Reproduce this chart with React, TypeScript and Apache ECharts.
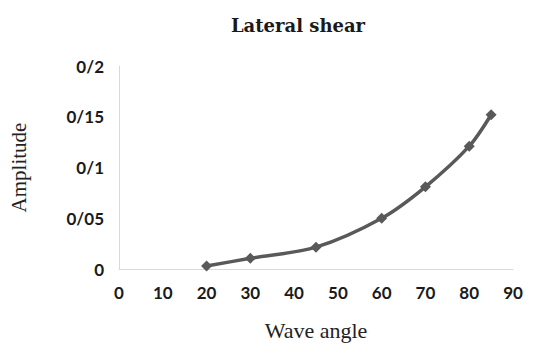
import React, { useEffect, useRef } from "react";
import * as echarts from "echarts";

// Wave angle (degrees) and lateral-shear amplitude
const waveAngles = [20, 30, 45, 60, 70, 80, 85];
const amplitudes = [0.003, 0.0105, 0.0215, 0.05, 0.081, 0.121, 0.152];

// Amplitude tick labels use "/" as the decimal separator
const yTickLabels: Record<string, string> = {
  "0": "0",
  "0.05": "0/05",
  "0.1": "0/1",
  "0.15": "0/15",
  "0.2": "0/2",
};

const SERIF = "'Liberation Serif', 'DejaVu Serif', serif";
const TICK_FONT = "Lato, 'Noto Sans', sans-serif";

export default function App() {
  const ref = useRef<HTMLDivElement>(null);

  useEffect(() => {
    if (!ref.current) return;
    const chart = echarts.init(ref.current, undefined, { renderer: "svg" });
    chart.setOption({
      animation: false,
      backgroundColor: "#ffffff",
      title: {
        text: "Lateral shear",
        left: 293,
        top: 11,
        textAlign: "center",
        textStyle: {
          fontFamily: "'DejaVu Serif', serif",
          fontSize: 18,
          fontWeight: "bold",
          color: "#1a1a1a",
        },
      },
      grid: { left: 117, right: 24, top: 66, bottom: 76, containLabel: false },
      xAxis: {
        type: "value",
        min: 0,
        max: 90,
        interval: 10,
        name: "Wave angle",
        nameLocation: "middle",
        nameGap: 50,
        nameTextStyle: { fontFamily: SERIF, fontSize: 22, color: "#222" },
        axisLine: { show: true, lineStyle: { color: "#d9d9d9", width: 1 } },
        axisTick: { show: false },
        splitLine: { show: false },
        axisLabel: {
          margin: 15,
          fontFamily: TICK_FONT,
          fontSize: 17,
          fontWeight: "bold",
          color: "#1a1a1a",
        },
      },
      yAxis: {
        type: "value",
        min: 0,
        max: 0.2,
        interval: 0.05,
        name: "Amplitude",
        nameLocation: "middle",
        nameGap: 90,
        nameTextStyle: { fontFamily: SERIF, fontSize: 21, color: "#222" },
        axisLine: { show: true, lineStyle: { color: "#d9d9d9", width: 1 } },
        axisTick: { show: false },
        splitLine: { show: false },
        axisLabel: {
          margin: 15,
          fontFamily: TICK_FONT,
          fontSize: 17,
          fontWeight: "bold",
          color: "#1a1a1a",
          formatter: (v: number) => {
            const key = String(Math.round(v * 100) / 100);
            return yTickLabels[key] ?? key.replace(".", "/");
          },
        },
      },
      series: [
        {
          type: "line",
          data: waveAngles.map((a, i) => [a, amplitudes[i]]),
          smooth: 0.3,
          symbol: "diamond",
          symbolSize: 11,
          lineStyle: { color: "#595959", width: 3.5 },
          itemStyle: { color: "#595959" },
        },
      ],
    });
    return () => chart.dispose();
  }, []);

  return (
    <div
      ref={ref}
      style={{ position: "fixed", left: 0, top: 0, width: 537, height: 346 }}
    />
  );
}
